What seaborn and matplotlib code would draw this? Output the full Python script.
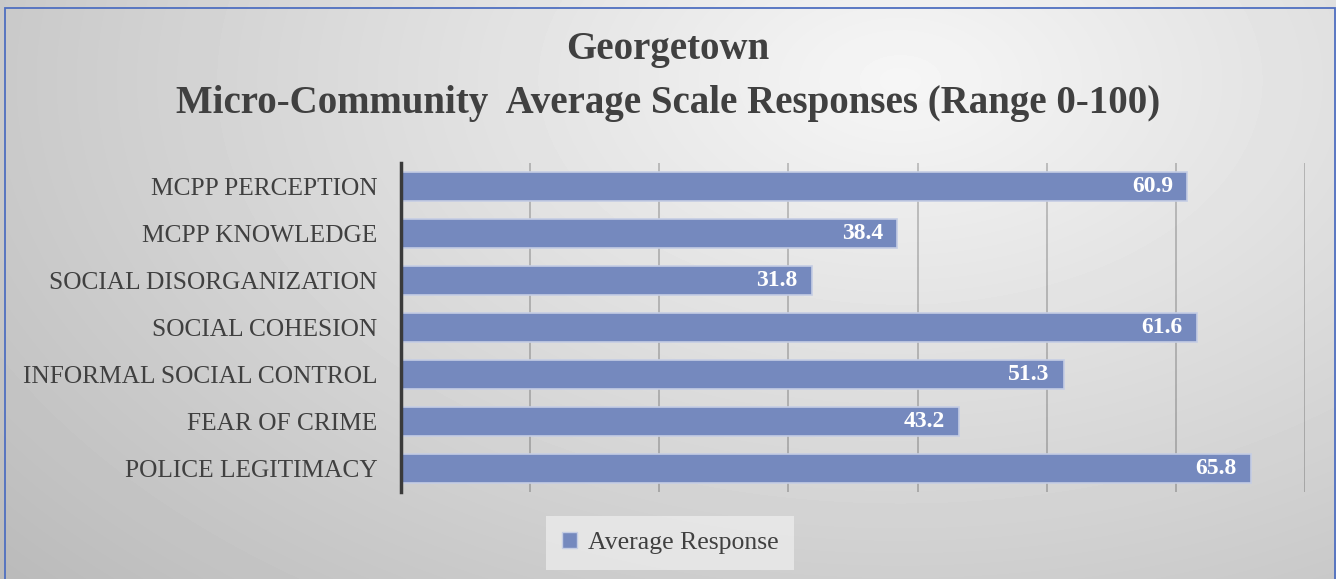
import numpy as np
import pandas as pd
import matplotlib
matplotlib.use("Agg")
import matplotlib.pyplot as plt
import matplotlib.patches as mpatches
import seaborn as sns

categories = ["MCPP PERCEPTION", "MCPP KNOWLEDGE", "SOCIAL DISORGANIZATION",
              "SOCIAL COHESION", "INFORMAL SOCIAL CONTROL", "FEAR OF CRIME",
              "POLICE LEGITIMACY"]
values = [60.9, 38.4, 31.8, 61.6, 51.3, 43.2, 65.8]
series_name = "Average Response"
title_lines = ["Georgetown", "Micro-Community  Average Scale Responses (Range 0-100)"]

sns.set_style({'axes.grid': False})
plt.rcParams['font.family'] = ['Liberation Serif', 'DejaVu Serif']

bar_color = "#7589BE"
text_color = "#404040"

fig = plt.figure(figsize=(13.36, 5.79), dpi=100)

# radial grey background, light near the top right, darker to the edges
bg = fig.add_axes([0, 0, 1, 1], zorder=-10)
yy, xx = np.mgrid[0:579, 0:1336]
r = np.sqrt(((xx - 900) / 1336.0) ** 2 + ((yy - 80) / 579.0 * 0.7) ** 2)
shade = np.clip(0.965 - 0.26 * r, 0, 1)
bg.imshow(shade, cmap="gray", vmin=0, vmax=1, aspect="auto", interpolation="bilinear")
bg.axis("off")

fig.patches.append(mpatches.Rectangle((5 / 1336, -0.01), 1330 / 1336, 1 - 8 / 579 + 0.01,
                                      transform=fig.transFigure, fill=False,
                                      edgecolor="#4F6FC0", linewidth=1.3, zorder=5))

ax = fig.add_axes([401 / 1336, 1 - 492 / 579, 904 / 1336, 329 / 579])
ax.patch.set_alpha(0)

df = pd.DataFrame({"category": categories, "value": values})
sns.barplot(data=df, x="value", y="category", orient="h", color=bar_color,
            saturation=1, width=0.6, edgecolor="#C5CDE4", linewidth=1.2, ax=ax, zorder=3)

ax.set_xlim(0, 70)
ax.set_ylim(6.5, -0.5)
ax.set_xticks(np.arange(10, 71, 10))
ax.xaxis.grid(True, color="black", alpha=0.22, linewidth=1.3, zorder=0)
ax.set_xticklabels([])
ax.tick_params(axis="x", length=0)
ax.tick_params(axis="y", length=0, pad=17, labelsize=18.3, labelcolor=text_color)
ax.set_xlabel("")
ax.set_ylabel("")
for s in ["top", "right", "bottom"]:
    ax.spines[s].set_visible(False)
ax.spines["left"].set_color("#3a3a3a")
ax.spines["left"].set_linewidth(2.5)
ax.spines["left"].set_zorder(6)

for i, v in enumerate(values):
    ax.annotate(f"{v:.1f}", xy=(v, i), xytext=(-10, 0), textcoords="offset points",
                ha="right", va="center", color="white", fontsize=17, fontweight="bold", zorder=7)

fig.text(0.5, 1 - 50 / 579, title_lines[0], ha="center", va="center",
         fontsize=28, fontweight="bold", color=text_color)
fig.text(0.5, 1 - 103 / 579, title_lines[1], ha="center", va="center",
         fontsize=28, fontweight="bold", color=text_color)

handle = mpatches.Patch(facecolor=bar_color, edgecolor="#C5CDE4", label=series_name)
leg = fig.legend(handles=[handle], loc="center", bbox_to_anchor=(670 / 1336, 1 - 543 / 579),
                 frameon=True, fontsize=18.5, handlelength=0.6, handleheight=0.6,
                 handletextpad=0.4, borderpad=0.6, borderaxespad=0, fancybox=False)
leg.get_frame().set_facecolor("#EDEDED")
leg.get_frame().set_edgecolor("none")
leg.get_frame().set_alpha(0.75)
for t in leg.get_texts():
    t.set_color(text_color)

fig.savefig("out.png", dpi=100)
